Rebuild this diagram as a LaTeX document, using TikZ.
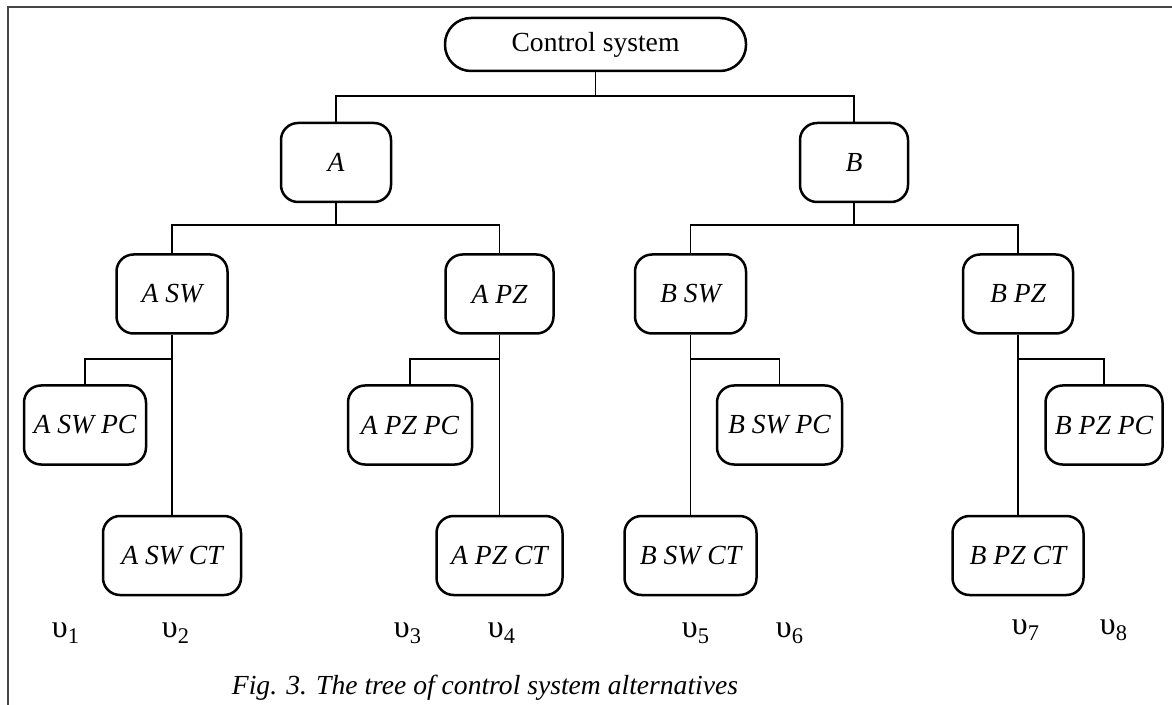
\documentclass[tikz,border=0pt]{standalone}
\usepackage{fontspec}
\setmainfont{Liberation Serif}
\usepackage{tikz}
\usetikzlibrary{positioning,calc}
\definecolor{myframe}{RGB}{70,70,70}

\begin{document}
\begin{tikzpicture}[x=0.5pt,y=-0.5pt,
	every node/.style={font=\fontsize{13.8}{16}\selectfont},
	altnode/.style={draw,rectangle,rounded corners=8.5pt,line width=1.25pt,
		inner sep=0pt,minimum height=39.5pt,font=\fontsize{13.8}{16}\selectfont\itshape},
	rootnode/.style={draw,rectangle,rounded corners=13pt,line width=1.25pt,
		inner sep=0pt,minimum height=26.5pt,minimum width=150.5pt},
	link/.style={line width=0.75pt},
	vlabel/.style={inner sep=0pt,font=\fontsize{16}{18}\selectfont},
	]
	
	\useasboundingbox (0,0) rectangle (1172,705);
	
	% the frame
	\draw[myframe,line width=1pt] (8,705) -- (8,7) -- (1172,7);
	
	% the root
	\node[rootnode] (cs) at (595.5,44.5) {Control system};
	
	% the vertices A and B
	\node[altnode,minimum width=55pt] (a) at (336,162.5) {A};
	\node[altnode,minimum width=54pt] (b) at (854,162.5) {B};
	
	% the second level
	\node[altnode,minimum width=55.5pt] (asw) at (172,294) {A SW};
	\node[altnode,minimum width=54pt] (apz) at (499.5,294) {A PZ};
	\node[altnode,minimum width=55.5pt] (bsw) at (690.5,294) {B SW};
	\node[altnode,minimum width=55pt] (bpz) at (1018,294) {B PZ};
	
	% the PC leaves
	\node[altnode,minimum width=61pt] (aswpc) at (85,425) {A SW PC};
	\node[altnode,minimum width=62pt] (apzpc) at (410,425) {A PZ PC};
	\node[altnode,minimum width=62.5pt] (bswpc) at (779.5,425) {B SW PC};
	\node[altnode,minimum width=58.5pt] (bpzpc) at (1104,425) {B PZ PC};
	
	% the CT leaves
	\node[altnode,minimum width=69pt] (aswct) at (172,555.5) {A SW CT};
	\node[altnode,minimum width=63pt] (apzct) at (499.5,555.5) {A PZ CT};
	\node[altnode,minimum width=66pt] (bswct) at (690.5,555.5) {B SW CT};
	\node[altnode,minimum width=65.5pt] (bpzct) at (1018,555.5) {B PZ CT};
	
	% the junctions
	\coordinate (j0) at (595.5,96);
	\coordinate (ja) at (336,225);
	\coordinate (jb) at (854,225);
	\coordinate (k1) at (172,359);
	\coordinate (k2) at (499.5,359);
	\coordinate (k3) at (690.5,359);
	\coordinate (k4) at (1018,359);
	
	% the edges
	\draw[link] (cs.south) -- (j0);
	\draw[link] (a.north) |- (j0);
	\draw[link] (b.north) |- (j0);
	\draw[link] (a.south) -- (ja);
	\draw[link] (asw.north) |- (ja);
	\draw[link] (apz.north) |- (ja);
	\draw[link] (b.south) -- (jb);
	\draw[link] (bsw.north) |- (jb);
	\draw[link] (bpz.north) |- (jb);
	\draw[link] (asw.south) -- (aswct.north);
	\draw[link] (aswpc.north) |- (k1);
	\draw[link] (apz.south) -- (apzct.north);
	\draw[link] (apzpc.north) |- (k2);
	\draw[link] (bsw.south) -- (bswct.north);
	\draw[link] (bswpc.north) |- (k3);
	\draw[link] (bpz.south) -- (bpzct.north);
	\draw[link] (bpzpc.north) |- (k4);
	
	% the alternatives
	\foreach \i/\x/\y in {1/66/633,2/176/633,3/408/633,4/502/633,
		5/696/633,6/790/633,7/1026/630,8/1114/630}
	\node[vlabel] (v\i) at (\x,\y) {υ\textsubscript{\i}};
	
	% the caption
	\node[font=\fontsize{13.8}{16}\selectfont\itshape] (cap) at (485,688)
	{Fig. 3. The tree of control system alternatives};
\end{tikzpicture}
\end{document}
